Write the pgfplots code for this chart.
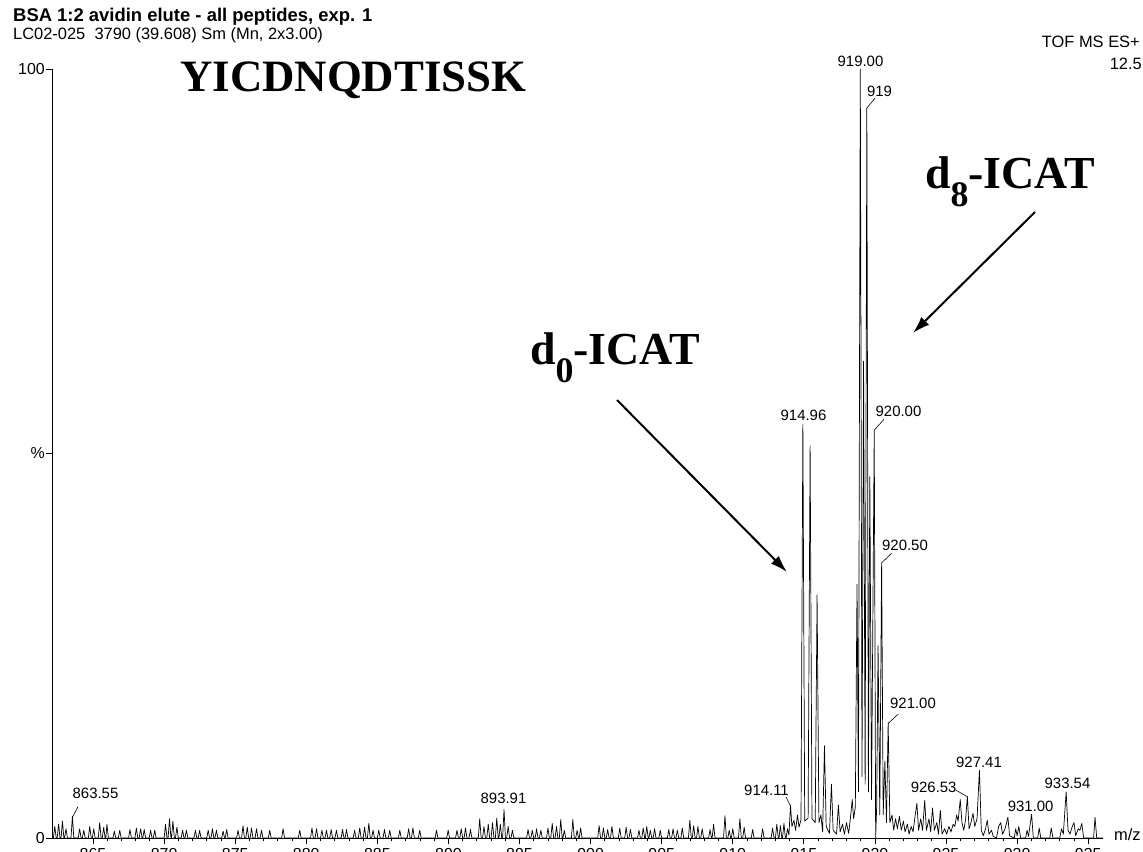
\documentclass[border=0pt]{standalone}
\usepackage{fontspec}
\setmainfont{Liberation Sans}
\newfontfamily\tnr{Liberation Serif}
\usepackage{pgfplots}
\pgfplotsset{compat=1.18}
\usetikzlibrary{arrows.meta}
\begin{document}
\begin{tikzpicture}
\useasboundingbox (0bp,0bp) rectangle (1143bp,852bp);
\clip (0bp,0bp) rectangle (1143bp,852bp);
\begin{axis}[
  at={(52.5bp,14bp)}, anchor=south west,
  scale only axis, width=1050.8bp, height=769bp,
  xmin=862.15, xmax=936.06, ymin=0, ymax=100,
  axis lines=left,
  axis line style={-, line width=0.8bp, black},
  x axis line style={-}, y axis line style={-},
  tick align=outside,
  major tick length=6.5bp, minor tick length=3.5bp,
  tick style={black, line width=0.8bp},
  xtick={865,870,...,935}, minor x tick num=4,
  ytick={0,50,100}, yticklabels={0,\%,100}, minor y tick num=0,
  /pgf/number format/assume math mode=true,
  ticklabel style={font=\fontsize{16}{16}\selectfont},
  yticklabel style={inner sep=1bp},
  xticklabel style={inner sep=1bp, yshift=-3bp},
  clip=false,
]
\addplot[black, line width=0.7bp, line join=round, no marks] coordinates {
(862.15,0)
(862.21,0)(862.31,1.5)(862.41,0)
(862.48,0)(862.58,1.8)(862.68,0)
(862.75,0)(862.85,2.2)(862.95,0)
(863.0,0)(863.1,1.2)(863.2,0)
(863.45,0)(863.55,2.8)(863.65,0)
(863.96,0)(864.06,1.2)(864.16,0)
(864.25,0)(864.35,1.0)(864.45,0)
(864.67,0)(864.77,1.5)(864.87,0)
(864.95,0)(865.05,1.2)(865.15,0)
(865.37,0)(865.47,2.0)(865.57,0)
(865.65,0)(865.75,1.4)(865.85,0)
(865.9,0)(865.98,1.8)(866.08,0)
(866.4,0)(866.5,0.9)(866.6,0)
(866.78,0)(866.88,1.0)(866.98,0)
(867.5,0)(867.6,1.1)(867.7,0)
(867.95,0)(868.05,1.3)(868.15,0)
(868.25,0)(868.35,1.2)(868.45,0)
(868.5,0)(868.6,1.1)(868.7,0)
(868.95,0)(869.05,1.0)(869.15,0)
(869.24,0)(869.34,1.0)(869.44,0)
(870.0,0)(870.1,1.8)(870.2,0)
(870.28,0)(870.38,2.5)(870.48,0)
(870.52,0)(870.62,2.2)(870.72,0)
(870.8,0)(870.9,1.4)(871.0,0)
(871.2,0)(871.3,1.0)(871.4,0)
(871.47,0)(871.57,1.0)(871.67,0)
(872.1,0)(872.2,1.0)(872.3,0)
(872.4,0)(872.5,1.0)(872.6,0)
(873.0,0)(873.1,1.0)(873.2,0)
(873.3,0)(873.4,1.2)(873.5,0)
(873.58,0)(873.68,1.0)(873.78,0)
(874.05,0)(874.15,0.9)(874.25,0)
(874.3,0)(874.4,1.1)(874.5,0)
(875.1,0)(875.2,1.0)(875.3,0)
(875.45,0)(875.55,1.6)(875.65,0)
(875.75,0)(875.85,1.4)(875.95,0)
(876.05,0)(876.15,1.3)(876.25,0)
(876.4,0)(876.5,1.2)(876.6,0)
(876.75,0)(876.85,1.0)(876.95,0)
(877.33,0)(877.43,1.0)(877.53,0)
(878.27,0)(878.37,1.2)(878.47,0)
(879.44,0)(879.54,1.0)(879.64,0)
(880.3,0)(880.4,1.3)(880.5,0)
(880.62,0)(880.72,1.2)(880.82,0)
(881.0,0)(881.1,1.0)(881.2,0)
(881.32,0)(881.42,1.0)(881.52,0)
(881.65,0)(881.75,1.1)(881.85,0)
(882.02,0)(882.12,1.0)(882.22,0)
(882.45,0)(882.55,1.1)(882.65,0)
(882.73,0)(882.83,1.1)(882.93,0)
(883.3,0)(883.4,1.0)(883.5,0)
(883.66,0)(883.76,1.3)(883.86,0)
(884.0,0)(884.1,1.4)(884.2,0)
(884.3,0)(884.4,1.9)(884.5,0)
(884.6,0)(884.7,1.0)(884.8,0)
(885.0,0)(885.1,1.0)(885.2,0)
(885.4,0)(885.5,1.1)(885.6,0)
(885.77,0)(885.87,1.0)(885.97,0)
(886.48,0)(886.58,1.0)(886.68,0)
(887.1,0)(887.2,1.2)(887.3,0)
(887.4,0)(887.5,1.3)(887.6,0)
(887.88,0)(887.98,1.0)(888.08,0)
(889.06,0)(889.16,1.0)(889.26,0)
(889.88,0)(889.98,1.0)(890.08,0)
(890.5,0)(890.6,1.0)(890.7,0)
(890.8,0)(890.9,1.2)(891.0,0)
(891.1,0)(891.2,1.3)(891.3,0)
(891.45,0)(891.55,1.1)(891.65,0)
(892.1,0)(892.2,2.5)(892.3,0)
(892.4,0)(892.5,1.5)(892.6,0)
(892.7,0)(892.8,1.8)(892.9,0)
(893.0,0)(893.1,2.0)(893.2,0)
(893.3,0)(893.4,2.6)(893.5,0)
(893.55,0)(893.65,1.8)(893.75,0)
(893.81,0)(893.91,3.7)(894.01,0)
(894.1,0)(894.2,1.5)(894.3,0)
(894.4,0)(894.5,1.0)(894.6,0)
(895.5,0)(895.6,1.1)(895.7,0)
(895.8,0)(895.9,1.0)(896.0,0)
(896.1,0)(896.2,1.2)(896.3,0)
(896.4,0)(896.5,1.0)(896.6,0)
(896.9,0)(897.0,1.3)(897.1,0)
(897.2,0)(897.3,1.9)(897.4,0)
(897.5,0)(897.6,1.5)(897.7,0)
(897.8,0)(897.9,2.4)(898.0,0)
(898.05,0)(898.15,1.0)(898.25,0)
(898.65,0)(898.75,2.4)(898.85,0)
(898.95,0)(899.05,1.0)(899.15,0)
(899.2,0)(899.3,1.3)(899.4,0)
(900.5,0)(900.6,1.6)(900.7,0)
(900.8,0)(900.9,1.3)(901.0,0)
(901.1,0)(901.2,1.1)(901.3,0)
(901.4,0)(901.5,1.5)(901.6,0)
(901.95,0)(902.05,1.3)(902.15,0)
(902.4,0)(902.5,1.4)(902.6,0)
(902.7,0)(902.8,1.1)(902.9,0)
(903.3,0)(903.4,1.0)(903.5,0)
(903.6,0)(903.7,1.3)(903.8,0)
(903.85,0)(903.95,1.5)(904.05,0)
(904.1,0)(904.2,1.0)(904.3,0)
(904.4,0)(904.5,1.2)(904.6,0)
(904.8,0)(904.9,1.0)(905.0,0)
(905.4,0)(905.5,1.1)(905.6,0)
(905.7,0)(905.8,1.2)(905.9,0)
(906.0,0)(906.1,1.0)(906.2,0)
(906.35,0)(906.45,1.3)(906.55,0)
(906.88,0)(906.98,2.3)(907.08,0)
(907.15,0)(907.25,1.6)(907.35,0)
(907.45,0)(907.55,1.5)(907.65,0)
(907.75,0)(907.85,1.2)(907.95,0)
(908.3,0)(908.4,1.1)(908.5,0)
(908.55,0)(908.65,1.8)(908.75,0)
(909.35,0)(909.45,2.9)(909.55,0)
(909.65,0)(909.75,1.0)(909.85,0)
(909.9,0)(910.0,1.2)(910.1,0)
(910.4,0)(910.5,2.5)(910.6,0)
(910.7,0)(910.8,1.4)(910.9,0)
(911.3,0)(911.4,1.1)(911.5,0)
(912.0,0)(912.1,1.2)(912.2,0)
(912.7,0)(912.8,1.3)(912.9,0)
(913.0,0)(913.1,1.8)(913.2,0)
(913.25,0)(913.35,1.6)(913.45,0)
(913.5,0)(913.6,1.9)(913.7,0)
(913.75,0)(913.85,1.2)(913.95,0.4)
(914.06,4.3)(914.16,1.5)(914.3,2.3)(914.42,1.0)(914.55,3.0)(914.66,1.4)(914.8,2.4)
(914.93,53.8)(915.06,2.2)(915.3,2.6)(915.44,51)(915.57,2.5)(915.8,2.0)
(915.93,31.6)(916.06,2.0)(916.2,3.0)(916.32,0.8)(916.45,12)(916.57,1.5)(916.8,0.6)
(916.94,7)(917.06,1.0)(917.3,0.5)(917.43,4.3)(917.55,0.8)(917.72,1.8)(917.85,0.5)
(918.0,2.0)(918.15,0.6)(918.3,3.0)(918.4,5.0)(918.5,2.5)(918.62,4.0)
(918.74,33)(918.84,6)(918.97,100)(919.09,8)(919.2,62)(919.31,7)(919.43,94.9)(919.54,6)
(919.64,47)(919.76,5)(919.95,53)(920.05,0)(920.12,4)(920.22,25)(920.34,3)(920.47,35.8)
(920.58,3)(920.7,10)(920.81,2)(920.93,15)(921.05,2)
(921.2,3)(921.32,1)(921.45,2.5)(921.58,1.2)(921.72,2.8)(921.85,1)(922.0,2.2)(922.12,0.8)
(922.28,1.8)(922.4,0.5)(922.55,1.5)(922.68,0.8)(922.82,2.8)(922.95,4.5)(923.07,1)
(923.22,2.5)(923.35,1)(923.5,4.9)(923.62,1)(923.8,2.5)(923.92,0.8)(924.05,3.9)(924.18,1)
(924.35,2)(924.47,0.5)(924.6,3.6)(924.72,0.5)(924.9,1.2)(925.05,0.5)(925.2,1.5)(925.35,0.8)
(925.5,1.8)(925.62,1.5)(925.75,3.0)(925.85,2.2)(926.0,5.0)(926.12,2)(926.25,1)(926.38,2.5)
(926.5,5.4)(926.62,1.2)(926.75,2)(926.9,3.2)(927.02,1.5)(927.18,2.5)(927.35,8.8)(927.48,1)
(927.62,0.3)(927.78,1.2)(927.9,2.3)(928.02,0.5)(928.2,1.0)(928.32,0.2)(928.55,0)(928.7,1.5)
(928.85,2.0)(928.97,0.5)(929.15,1.2)(929.35,2.7)(929.47,0.3)(929.8,0)(929.9,1.2)(930.0,0.3)
(930.12,1.5)(930.25,0)(930.6,0)(930.7,1.0)(930.8,0.2)(931.02,3.1)(931.14,0)(931.45,0)
(931.55,1.3)(931.67,0)(932.3,0)(932.4,1.3)(932.52,0)(933.0,0)(933.12,1.2)(933.25,0.5)
(933.45,6.0)(933.58,1.0)(933.72,0.5)(933.88,1.5)(934.0,2.0)(934.12,0.3)(934.3,1.2)(934.42,1.0)
(934.55,1.9)(934.68,0)(935.38,0)(935.48,2.7)(935.6,0)(936.06,0)
};
\end{axis}
\begin{scope}[x=1bp,y=1bp]
% header texts
\node[anchor=base west, inner sep=0, font=\bfseries\fontsize{18.5}{20}\selectfont] at (13,830) {BSA 1:2 avidin elute - all peptides, exp. 1};
\node[anchor=base west, inner sep=0, font=\fontsize{16.5}{18}\selectfont] at (13,812) {LC02-025\ \ 3790 (39.608) Sm (Mn, 2x3.00)};
\node[anchor=base east, inner sep=0, font=\fontsize{16.5}{18}\selectfont] at (1140,804) {TOF MS ES+};
\node[anchor=base east, inner sep=0, font=\fontsize{16.5}{18}\selectfont] at (1142,782) {12.5};
\node[anchor=base west, inner sep=0, font=\fontsize{16.5}{18}\selectfont] at (1114,12) {m/z};
% big annotations
\node[anchor=base west, inner sep=0, font=\tnr\bfseries\fontsize{45}{50}\selectfont] at (180,760) {YICDNQDTISSK};
\node[anchor=base west, inner sep=0, font=\tnr\bfseries\fontsize{46}{50}\selectfont] at (530,487) {d\raisebox{-18bp}{\fontsize{36}{36}\selectfont 0}-ICAT};
\node[anchor=base west, inner sep=0, font=\tnr\bfseries\fontsize{46}{50}\selectfont] at (925,663) {d\raisebox{-18bp}{\fontsize{36}{36}\selectfont 8}-ICAT};
\draw[line width=2bp, -{Latex[length=17bp,width=11bp]}] (617,452) -- (787,280);
\draw[line width=2bp, -{Latex[length=17bp,width=11bp]}] (1035,640) -- (913,519);
% peak labels
\begin{scope}[font=\fontsize{15}{15}\selectfont, inner sep=0]
\node at (95.5,58.5) {863.55};
\draw[line width=0.6bp] (72.7,35.3) -- (78,45.3);
\node at (503.5,53.5) {893.91};
\node at (766.5,62) {914.11};
\draw[line width=0.6bp] (786,55) -- (790,47);
\node at (803.5,437) {914.96};
\node at (860.5,790.5) {919.00};
\node at (879.5,761) {919};
\draw[line width=0.6bp] (866.7,743.7) -- (875,753.7);
\node at (898.5,441) {920.00};
\draw[line width=0.6bp] (874.3,422) -- (884,432.7);
\node at (905,307) {920.50};
\draw[line width=0.6bp] (881.7,289.3) -- (891.7,298.7);
\node at (913,148.5) {921.00};
\draw[line width=0.6bp] (888.3,128.7) -- (898.3,138);
\node at (933.7,64.5) {926.53};
\draw[line width=0.6bp] (955.7,62) -- (967.3,55.3);
\node at (979,89.5) {927.41};
\node at (1030.7,46) {931.00};
\node at (1067.5,69) {933.54};
\end{scope}
\end{scope}
\end{tikzpicture}
\end{document}
